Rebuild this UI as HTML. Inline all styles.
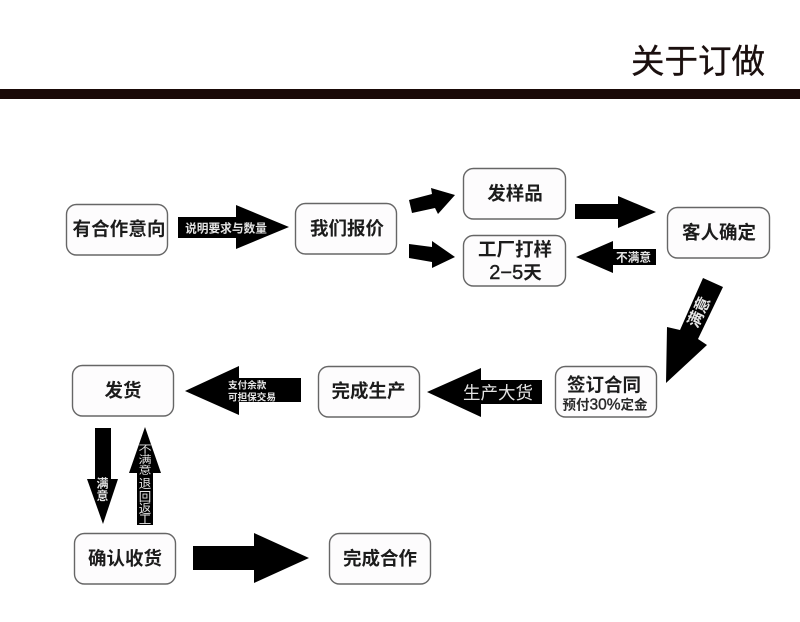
<!DOCTYPE html>
<html lang="zh">
<head>
<meta charset="utf-8">
<style>
html,body{margin:0;padding:0;background:#fff;}
svg{display:block;}
text{font-family:"Liberation Sans","Noto Sans CJK SC",sans-serif;}
.d{filter:blur(0.35px);}
.b{fill:#fdfcfd;stroke:#666;stroke-width:1.4;}
.t{font-size:18.5px;font-weight:700;fill:#1c1c1c;text-anchor:middle;}
.w{fill:#e4e4e4;text-anchor:middle;font-weight:700;}
.l{fill:#e4e4e4;text-anchor:start;font-weight:700;}
.n{font-weight:400;stroke-width:0.4;}
.v{font-size:12.5px;font-weight:400;}
.s{font-size:10.5px;font-weight:400;}
</style>
</head>
<body>
<svg width="800" height="622" viewBox="0 0 800 622" xmlns="http://www.w3.org/2000/svg">
<rect width="800" height="622" fill="#fff"/>
<text x="698" y="73" style="font-size:33.5px;fill:#1a0f0e;stroke:#1a0f0e;stroke-width:0.35;text-anchor:middle;font-weight:400" textLength="134" lengthAdjust="spacing">关于订做</text>
<rect x="0" y="89" width="800" height="10" fill="#1a0a08"/>

<g class="d">
<rect class="b" x="66.5" y="204.5" width="101" height="50.5" rx="10"/>
<rect class="b" x="295.5" y="203.5" width="101" height="50.5" rx="10"/>
<rect class="b" x="463.5" y="168.5" width="102" height="50.5" rx="10"/>
<rect class="b" x="463.5" y="235.5" width="102" height="50.5" rx="10"/>
<rect class="b" x="667.5" y="207.5" width="102" height="50.5" rx="10"/>
<rect class="b" x="555.5" y="366.5" width="101" height="50.5" rx="10"/>
<rect class="b" x="318.5" y="366.5" width="101" height="50.5" rx="10"/>
<rect class="b" x="72.5" y="365.5" width="101" height="50.5" rx="10"/>
<rect class="b" x="74.5" y="533.5" width="101" height="50.5" rx="10"/>
<rect class="b" x="329.5" y="533.5" width="101" height="50.5" rx="10"/>

<text class="t" x="119" y="235.5" textLength="93">有合作意向</text>
<text class="t" x="347" y="235">我们报价</text>
<text class="t" x="515" y="200">发样品</text>
<text class="t" x="515" y="256">工厂打样</text>
<text class="t" x="515.5" y="279"><tspan class="n" stroke="#1c1c1c" font-size="20">2−5</tspan>天</text>
<text class="t" x="719" y="239">客人确定</text>
<text class="t" x="604" y="391.5">签订合同</text>
<text x="605" y="409.5" style="font-size:13.5px;font-weight:700;fill:#2a2a2a;text-anchor:middle">预付<tspan class="n" stroke="#2a2a2a" font-size="15.5">30%</tspan>定金</text>
<text class="t" x="368.5" y="397.5">完成生产</text>
<text class="t" x="123" y="397">发货</text>
<text class="t" x="125" y="565">确认收货</text>
<text class="t" x="380" y="565">完成合作</text>

<g fill="#000">
<polygon points="178,217 236,217 236,205 289,227 236,249 236,238 178,238"/>
<polygon points="409,200 432,194 431,188 455,195 438,214 435,208 412,213"/>
<polygon points="409,244 432,247 432,241 455,257 432,268 432,262 409,258"/>
<polygon points="575,204 618,204 618,196 656,212 618,228 618,219 575,219"/>
<polygon points="656,249 613,249 613,241 576,257 613,273 613,265 656,265"/>
<polygon points="703,278 723,287 698,339 707,345 666,383 667,327 680,330"/>
<polygon points="542,380 481,380 481,368 427,392 481,417 481,404 542,404"/>
<polygon points="301,378 239,378 239,366 185,391 239,415 239,402 301,402"/>
<polygon points="95,428 111,428 111,479 118,479 103,524 87,479 95,479"/>
<polygon points="145,427 161,473 153,473 153,525 137,525 137,473 129,473"/>
<polygon points="193,546 254,546 254,533 309,558 254,583 254,570 193,570"/>
</g>

<text class="w" x="226" y="232.5" style="font-size:11.7px">说明要求与数量</text>
<text class="w" x="633.5" y="261.5" style="font-size:11.7px">不满意</text>
<text class="w" transform="translate(699,312) rotate(-65)" x="0" y="5.5" style="font-size:16px">满意</text>
<text class="w" x="498" y="399" style="font-size:17.5px;font-weight:400">生产大货</text>
<text class="l" x="228" y="388.5" style="font-size:9.6px">支付余款</text>
<text class="l" x="228" y="400.5" style="font-size:9.6px">可担保交易</text>
<text class="w" x="102.5" y="487.5" style="font-size:12px">满</text>
<text class="w" x="102.5" y="500" style="font-size:12px">意</text>
<text class="w s" transform="translate(145,452.5) scale(1.25,1)">不</text>
<text class="w s" transform="translate(145,463) scale(1.25,1)">满</text>
<text class="w s" transform="translate(145,473.5) scale(1.25,1)">意</text>
<text class="w v" x="145" y="488">退</text>
<text class="w v" x="145" y="501">回</text>
<text class="w v" x="145" y="513">返</text>
<text class="w v" x="145" y="524">工</text>
</g>
</svg>
</body>
</html>
